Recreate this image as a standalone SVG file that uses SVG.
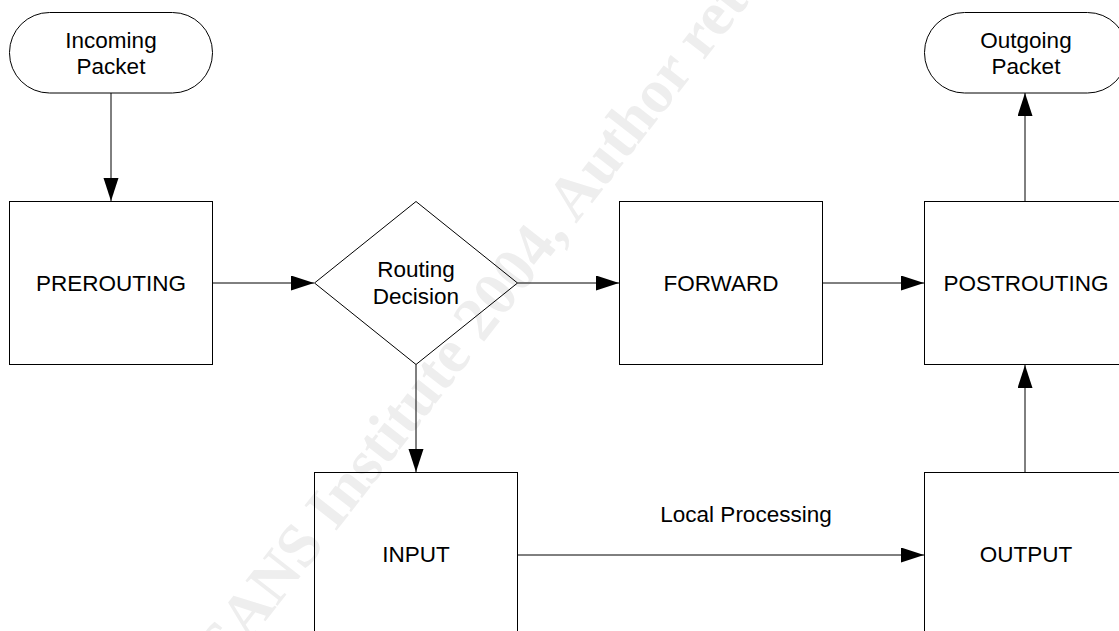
<svg xmlns="http://www.w3.org/2000/svg" width="1119" height="631" viewBox="0 0 1119 631">
  <style>
    .shape { fill: none; stroke: #000; stroke-width: 1; }
    .conn { fill: none; stroke: #000; stroke-width: 1; marker-end: url(#arrow); }
    .label { font-family: "Liberation Sans", Arial, sans-serif; font-size: 22.5px; fill: #000; text-anchor: middle; }
    .wm { font-family: "Liberation Serif", "Times New Roman", serif; font-weight: bold; font-size: 62px; fill: #eeeeee; }
  </style>
  <defs>
    <marker id="arrow" markerUnits="userSpaceOnUse" markerWidth="24" markerHeight="16" refX="23" refY="7.5" orient="auto">
      <path d="M0,0 L23,7.5 L0,15 Z" fill="#000"/>
    </marker>
  </defs>
  <rect x="0" y="0" width="1119" height="631" fill="#fff"/>

  <g id="watermark">
    <text class="wm" transform="translate(190,718) rotate(-52)">© SANS Institute 2004, Author retains full rights.</text>
  </g>

  <g id="connectors">
    <line class="conn" x1="111" y1="93" x2="111" y2="201"/>
    <line class="conn" x1="213" y1="283" x2="314" y2="283"/>
    <line class="conn" x1="517.5" y1="283" x2="619" y2="283"/>
    <line class="conn" x1="822.5" y1="283" x2="924" y2="283"/>
    <line class="conn" x1="416" y1="364.5" x2="416" y2="472"/>
    <line class="conn" x1="517.5" y1="555" x2="924" y2="555"/>
    <line class="conn" x1="1025" y1="472.5" x2="1025" y2="365"/>
    <line class="conn" x1="1025" y1="201.5" x2="1025" y2="93"/>
    <text class="label" x="746" y="522">Local Processing</text>
  </g>

  <g id="incoming">
    <rect class="shape" x="9.5" y="12.5" width="203" height="80.5" rx="40" ry="40"/>
    <text class="label" x="111" y="48">Incoming</text>
    <text class="label" x="111" y="74">Packet</text>
  </g>

  <g id="prerouting">
    <rect class="shape" x="9.5" y="201.5" width="203" height="163"/>
    <text class="label" x="111" y="291">PREROUTING</text>
  </g>

  <g id="routing">
    <polygon class="shape" points="314.5,283 416,201.5 517.5,283 416,364.5"/>
    <text class="label" x="416" y="277">Routing</text>
    <text class="label" x="416" y="304">Decision</text>
  </g>

  <g id="forward">
    <rect class="shape" x="619.5" y="201.5" width="203" height="163"/>
    <text class="label" x="721" y="291">FORWARD</text>
  </g>

  <g id="postrouting">
    <rect class="shape" x="924.5" y="201.5" width="203" height="163"/>
    <text class="label" x="1026" y="291">POSTROUTING</text>
  </g>

  <g id="outgoing">
    <rect class="shape" x="924.5" y="12.5" width="203" height="80.5" rx="40" ry="40"/>
    <text class="label" x="1026" y="48">Outgoing</text>
    <text class="label" x="1026" y="74">Packet</text>
  </g>

  <g id="input">
    <rect class="shape" x="314.5" y="472.5" width="203" height="163"/>
    <text class="label" x="416" y="562">INPUT</text>
  </g>

  <g id="output">
    <rect class="shape" x="924.5" y="472.5" width="203" height="163"/>
    <text class="label" x="1026" y="562">OUTPUT</text>
  </g>
</svg>
